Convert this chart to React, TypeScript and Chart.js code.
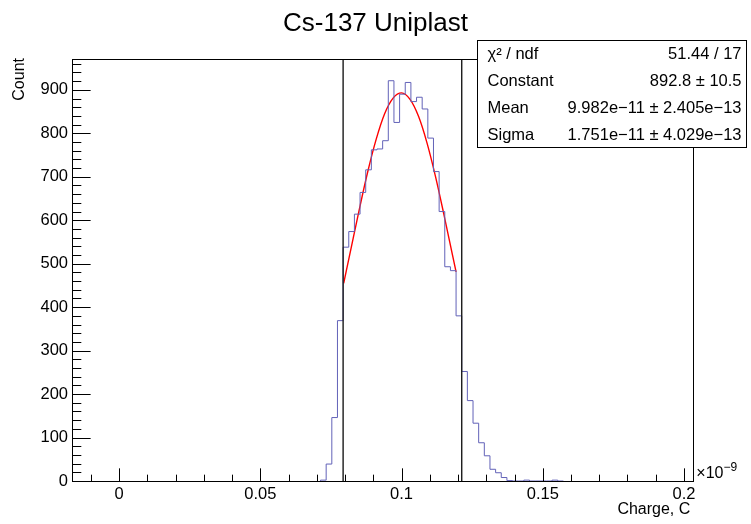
import React, { useEffect, useRef } from "react";
import { Chart, registerables } from "chart.js";

Chart.register(...registerables);

// ---- text ----
const chartTitle = "Cs-137 Uniplast";
const xAxisTitle = "Charge, C";
const yAxisTitle = "Count";
const xExponentBase = "×10";
const xExponent = "−9";

// ---- axes ----
const xMin = -0.0167;
const xMax = 0.2033;
const yMin = 0;
const yMax = 971;
const xTickValues = [0, 0.05, 0.1, 0.15, 0.2];
const xTickLabels = ["0", "0.05", "0.1", "0.15", "0.2"];
const yTickValues = [0, 100, 200, 300, 400, 500, 600, 700, 800, 900];
const yTickLabels = ["0", "100", "200", "300", "400", "500", "600", "700", "800", "900"];
const xMinorStep = 0.01;
const yMinorStep = 20;

// ---- histogram (bin width 0.002 ×10^-9 C), counts ----
const binWidth = 0.002;
const binStart = 0.0713;
const binCounts = [
  2, 39, 146, 369, 538, 574, 614, 664, 716, 762, 764, 783, 921, 825, 890, 917,
  873, 883, 856, 789, 712, 620, 493, 484, 380, 252, 185, 133, 88, 58, 27, 19,
  8, 1, 0, 0, 2, 0, 0, 0, 0, 2, 0,
];

// ---- gaussian fit curve ----
const fitX = [0.0795, 0.082, 0.085, 0.088, 0.091, 0.094, 0.097, 0.1, 0.103, 0.106, 0.109, 0.112, 0.115, 0.118, 0.1193];
const fitY = [455, 532, 624, 711, 786, 845, 881, 893, 878, 839, 778, 701, 613, 521, 481];

// ---- vertical cut lines ----
const cutLines = [0.0793, 0.1213];

// ---- stats box ----
const statsLabels = ["χ² / ndf", "Constant", "Mean", "Sigma"];
const statsValues = ["51.44 / 17", "892.8 ± 10.5", "9.982e−11 ± 2.405e−13", "1.751e−11 ± 4.029e−13"];

const FONT = "'Liberation Sans', Arial, Helvetica, sans-serif";

const rootDecor = {
  id: "rootDecor",
  afterDatasetsDraw(chart: any) {
    const { ctx, chartArea: a, scales } = chart;
    const xs = scales.x;
    ctx.save();
    ctx.strokeStyle = "#1a1a1a";
    ctx.lineWidth = 1.4;
    for (const v of cutLines) {
      const px = xs.getPixelForValue(v);
      ctx.beginPath();
      ctx.moveTo(px, a.top);
      ctx.lineTo(px, a.bottom);
      ctx.stroke();
    }
    ctx.restore();
  },
  afterDraw(chart: any) {
    const { ctx, chartArea: a, scales } = chart;
    const xs = scales.x;
    const ys = scales.y;
    const w = a.right - a.left;
    const h = a.bottom - a.top;
    ctx.save();
    ctx.strokeStyle = "#000";
    ctx.lineWidth = 1;
    // frame
    ctx.strokeRect(Math.round(a.left) + 0.5, Math.round(a.top) + 0.5, Math.round(w), Math.round(h));
    // x ticks (inward)
    const xMaj = 0.03 * h;
    ctx.beginPath();
    for (let i = Math.ceil(xMin / xMinorStep); i * xMinorStep <= xMax + 1e-9; i++) {
      const v = i * xMinorStep;
      const px = Math.round(xs.getPixelForValue(v)) + 0.5;
      const len = i % 5 === 0 ? xMaj : xMaj / 2;
      ctx.moveTo(px, a.bottom);
      ctx.lineTo(px, a.bottom - len);
    }
    // y ticks (inward)
    const yMaj = 0.03 * w;
    for (let i = Math.ceil(yMin / yMinorStep); i * yMinorStep <= yMax; i++) {
      const v = i * yMinorStep;
      const py = Math.round(ys.getPixelForValue(v)) + 0.5;
      const len = i % 5 === 0 ? yMaj : yMaj / 2;
      ctx.moveTo(a.left, py);
      ctx.lineTo(a.left + len, py);
    }
    ctx.stroke();

    ctx.fillStyle = "#000";
    // title
    ctx.font = `26px ${FONT}`;
    ctx.textAlign = "center";
    ctx.textBaseline = "alphabetic";
    ctx.fillText(chartTitle, chart.width / 2, 31);

    // x axis title
    ctx.font = `16px ${FONT}`;
    ctx.textAlign = "right";
    ctx.textBaseline = "middle";
    ctx.fillText(xAxisTitle, a.right - 3, 510);

    // exponent
    ctx.textAlign = "left";
    ctx.font = `16px ${FONT}`;
    ctx.fillText(xExponentBase, a.right + 3, a.bottom - 7);
    const bw = ctx.measureText(xExponentBase).width;
    ctx.font = `12px ${FONT}`;
    ctx.fillText(xExponent, a.right + 3 + bw, a.bottom - 13);

    // y axis title
    ctx.save();
    ctx.translate(20, a.top - 1);
    ctx.rotate(-Math.PI / 2);
    ctx.font = `16px ${FONT}`;
    ctx.textAlign = "right";
    ctx.textBaseline = "middle";
    ctx.fillText(yAxisTitle, 0, 0);
    ctx.restore();

    // stats box
    const bx0 = 477.5, by0 = 40.5, bx1 = 746.5, by1 = 147.5;
    ctx.fillStyle = "#fff";
    ctx.fillRect(bx0, by0, bx1 - bx0, by1 - by0);
    ctx.strokeStyle = "#000";
    ctx.lineWidth = 1;
    ctx.strokeRect(bx0, by0, bx1 - bx0, by1 - by0);
    ctx.fillStyle = "#000";
    ctx.font = `16.5px ${FONT}`;
    ctx.textBaseline = "middle";
    const rowH = (by1 - by0) / statsLabels.length;
    statsLabels.forEach((lab, i) => {
      const cy = by0 + rowH * (i + 0.5) + 1;
      ctx.textAlign = "left";
      ctx.fillText(lab, bx0 + 10, cy);
      ctx.textAlign = "right";
      ctx.fillText(statsValues[i], bx1 - 5, cy);
    });
    ctx.restore();
  },
};

export default function App() {
  const ref = useRef<HTMLCanvasElement>(null);
  useEffect(() => {
    document.body.style.margin = "0";
    const histPoints = [
      { x: binStart, y: 0 },
      ...binCounts.map((c, i) => ({ x: binStart + i * binWidth, y: c })),
      { x: binStart + binCounts.length * binWidth, y: 0 },
    ];
    const fitPoints = fitX.map((x, i) => ({ x, y: fitY[i] }));
    const chart = new Chart(ref.current as HTMLCanvasElement, {
      type: "line",
      data: {
        datasets: [
          {
            data: histPoints,
            stepped: "before",
            borderColor: "#6262b8",
            borderWidth: 1,
            pointRadius: 0,
            fill: false,
          },
          {
            data: fitPoints,
            borderColor: "#ff0000",
            borderWidth: 1.4,
            pointRadius: 0,
            cubicInterpolationMode: "monotone",
            fill: false,
          },
        ],
      } as any,
      options: {
        animation: false,
        responsive: false,
        layout: { padding: { top: 59, left: 0, right: 57.7, bottom: 0 } },
        plugins: { legend: { display: false }, tooltip: { enabled: false }, title: { display: false } },
        scales: {
          x: {
            type: "linear",
            min: xMin,
            max: xMax,
            grid: { display: false, drawTicks: false },
            border: { display: false },
            afterBuildTicks: (s: any) => {
              s.ticks = xTickValues.map((v) => ({ value: v }));
            },
            afterFit: (s: any) => {
              s.height = 43;
            },
            ticks: {
              autoSkip: false,
              maxRotation: 0,
              padding: 4,
              color: "#000",
              font: { family: FONT, size: 16.5 },
              callback: (v: any) => {
                const i = xTickValues.indexOf(Number(v));
                return i >= 0 ? xTickLabels[i] : "";
              },
            },
          },
          y: {
            type: "linear",
            min: yMin,
            max: yMax,
            grid: { display: false, drawTicks: false },
            border: { display: false },
            afterBuildTicks: (s: any) => {
              s.ticks = yTickValues.map((v) => ({ value: v }));
            },
            afterFit: (s: any) => {
              s.width = 72;
            },
            ticks: {
              autoSkip: false,
              padding: 4,
              color: "#000",
              font: { family: FONT, size: 16.5 },
              callback: (v: any) => {
                const i = yTickValues.indexOf(Number(v));
                return i >= 0 ? yTickLabels[i] : "";
              },
            },
          },
        },
      } as any,
      plugins: [rootDecor],
    });
    return () => chart.destroy();
  }, []);
  return <canvas ref={ref} width={751} height={524} style={{ display: "block", width: 751, height: 524 }} />;
}
